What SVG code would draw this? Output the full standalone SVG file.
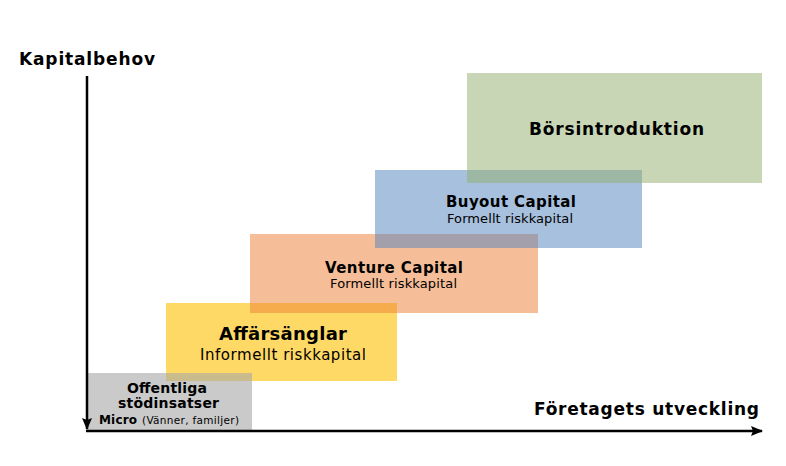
<svg xmlns="http://www.w3.org/2000/svg" width="786" height="466" viewBox="0 0 786 466">
<defs>
<marker id="arr" viewBox="0 0 12 10" refX="11" refY="5" markerWidth="12" markerHeight="10" markerUnits="userSpaceOnUse" orient="auto">
<path d="M0,0 L12,5 L0,10 L2,5 z" fill="#000"/>
</marker>
<style>
text{font-family:"DejaVu Sans","Verdana",sans-serif;fill:#000;text-anchor:middle}
.b{font-weight:bold}
.axis{stroke:#000;stroke-width:2.5;fill:none}
</style>
</defs>
<rect width="786" height="466" fill="#fff"/>
<g id="affarsanglar">
<rect x="166" y="303" width="231" height="78" fill="#FFC000" fill-opacity="0.6"/>
<text class="b" x="283" y="340" font-size="18" textLength="128" lengthAdjust="spacing">Affärsänglar</text>
<text x="283" y="360" font-size="15" textLength="166" lengthAdjust="spacing">Informellt riskkapital</text>
</g>
<g id="offentliga">
<rect x="87" y="373" width="165" height="57" fill="#a6a6a6" fill-opacity="0.6"/>
<text class="b" x="167" y="393" font-size="14" textLength="80" lengthAdjust="spacing">Offentliga</text>
<text class="b" x="168.5" y="408" font-size="14" textLength="101" lengthAdjust="spacing">stödinsatser</text>
<text class="b" x="99" y="424" font-size="12" style="text-anchor:start" textLength="38" lengthAdjust="spacing">Micro</text>
<text x="142" y="424" font-size="10.5" style="text-anchor:start" textLength="97" lengthAdjust="spacing">(Vänner, familjer)</text>
</g>
<g id="venture">
<rect x="250" y="234" width="288" height="79" fill="#ED7D31" fill-opacity="0.5"/>
<text class="b" x="394" y="273" font-size="15" textLength="138" lengthAdjust="spacing">Venture Capital</text>
<text x="393.5" y="288" font-size="13" textLength="127" lengthAdjust="spacing">Formellt riskkapital</text>
</g>
<g id="buyout">
<rect x="375" y="170" width="267" height="78" fill="#4F81BD" fill-opacity="0.5"/>
<text class="b" x="511" y="207" font-size="15" textLength="130" lengthAdjust="spacing">Buyout Capital</text>
<text x="510" y="223" font-size="13" textLength="126" lengthAdjust="spacing">Formellt riskkapital</text>
</g>
<g id="borsintroduktion">
<rect x="467" y="73" width="295" height="110" fill="#93AD6C" fill-opacity="0.5"/>
<text class="b" x="616.5" y="135" font-size="17" textLength="175" lengthAdjust="spacing">Börsintroduktion</text>
</g>
<g id="connectors">
<line class="axis" x1="87" y1="76" x2="87" y2="429" marker-end="url(#arr)"/>
<line class="axis" x1="86" y1="431" x2="762" y2="431" marker-end="url(#arr)"/>
</g>
<g id="labels">
<text class="b" x="87" y="65" font-size="17" textLength="136" lengthAdjust="spacing">Kapitalbehov</text>
<text class="b" x="646.5" y="415" font-size="17" textLength="225" lengthAdjust="spacing">Företagets utveckling</text>
</g>
</svg>
